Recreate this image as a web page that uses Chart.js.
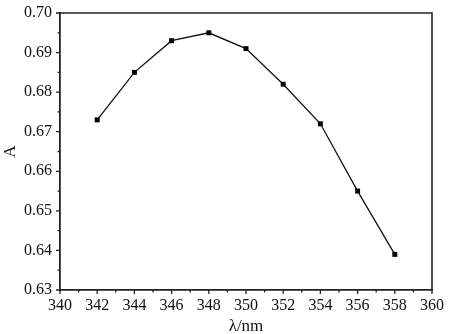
<!DOCTYPE html>
<html>
<head>
<meta charset="utf-8">
<script src="https://cdn.jsdelivr.net/npm/chart.js@4/dist/chart.umd.min.js"></script>
<style>
  html, body { margin: 0; padding: 0; background: #fff; }
  #wrap { width: 450px; height: 334px; }
</style>
</head>
<body>
<div id="wrap"><canvas id="chart"></canvas></div>
<script>
// wavelength (nm) vs absorbance
var wavelengths = [342, 344, 346, 348, 350, 352, 354, 356, 358];
var absorbance = [0.673, 0.685, 0.693, 0.695, 0.691, 0.682, 0.672, 0.655, 0.639];

var serif = '"Liberation Serif", "DejaVu Serif", serif';

// outward ticks, major + minor halfway between
var tickPlugin = {
    id: 'tickMarks',
    afterDraw: function(chart) {
        var ctx = chart.ctx;
        var area = chart.chartArea;
        var xs = chart.scales.x, ys = chart.scales.y;
        ctx.save();
        ctx.strokeStyle = '#222';
        ctx.lineWidth = 1.6;
        // frame on top and right
        ctx.beginPath();
        ctx.moveTo(area.left, area.top);
        ctx.lineTo(area.right, area.top);
        ctx.lineTo(area.right, area.bottom);
        ctx.stroke();
        ctx.lineWidth = 1.3;
        ctx.beginPath();
        for (var v = 340; v <= 360; v += 1) {
            var px = xs.getPixelForValue(v);
            var len = (v % 2 === 0) ? 4 : 2.5;
            ctx.moveTo(px, area.bottom);
            ctx.lineTo(px, area.bottom + len);
        }
        for (var i = 0; i <= 14; i++) {
            var val = 0.63 + i * 0.005;
            var py = ys.getPixelForValue(val);
            var l = (i % 2 === 0) ? 4 : 2.5;
            ctx.moveTo(area.left, py);
            ctx.lineTo(area.left - l, py);
        }
        ctx.stroke();
        ctx.restore();
    }
};

new Chart(document.getElementById('chart'), {
    type: 'line',
    data: {
        datasets: [{
            data: wavelengths.map(function(w, i) { return { x: w, y: absorbance[i] }; }),
            borderColor: '#111',
            borderWidth: 1.3,
            backgroundColor: '#000',
            pointStyle: 'rect',
            pointRadius: 3.5,
            pointBorderWidth: 0,
            fill: false,
            tension: 0
        }]
    },
    options: {
        responsive: true,
        maintainAspectRatio: false,
        animation: false,
        layout: { padding: { top: 13, right: 18, left: 0, bottom: 0 } },
        plugins: {
            legend: { display: false },
            tooltip: { enabled: false }
        },
        scales: {
            x: {
                type: 'linear',
                min: 340,
                max: 360,
                afterFit: function(scale) { scale.height = 44; },
                ticks: {
                    stepSize: 2,
                    padding: 6,
                    color: '#111',
                    font: { family: serif, size: 16 }
                },
                grid: { display: true, drawOnChartArea: false, drawTicks: false },
                border: { display: true, color: '#222', width: 1.8 },
                title: {
                    display: true,
                    text: 'λ/nm',
                    color: '#111',
                    padding: { top: 0, bottom: -3 },
                    font: { family: serif, size: 17 }
                }
            },
            y: {
                min: 0.63,
                max: 0.70,
                afterFit: function(scale) {
                    scale.width = 60;
                    scale.paddingTop = 0;
                    scale.paddingBottom = 0;
                },
                ticks: {
                    stepSize: 0.01,
                    padding: 8,
                    color: '#111',
                    font: { family: serif, size: 16 },
                    callback: function(v) { return v.toFixed(2); }
                },
                grid: { display: true, drawOnChartArea: false, drawTicks: false },
                border: { display: true, color: '#222', width: 1.8 },
                title: {
                    display: true,
                    text: 'A',
                    color: '#111',
                    padding: 0,
                    font: { family: serif, size: 17 }
                }
            }
        }
    },
    plugins: [tickPlugin]
});
</script>
</body>
</html>
